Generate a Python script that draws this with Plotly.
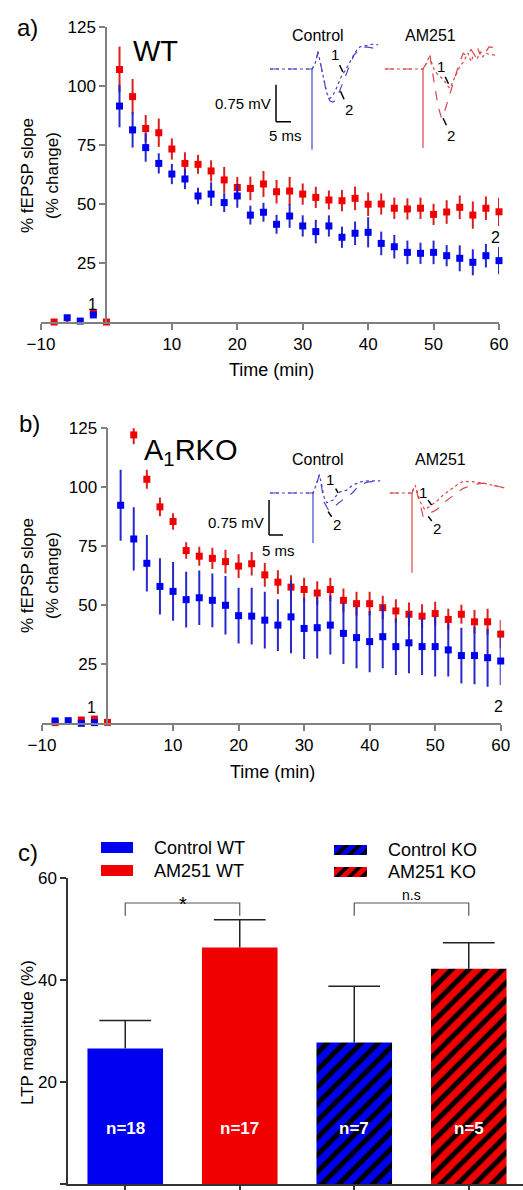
import plotly.graph_objects as go

W, H = 523, 1190
FONT = "Arial, Liberation Sans, Helvetica, sans-serif"
RED = "#f00000"
BLUE = "#0000f0"
RED_E = "rgba(215,20,20,0.95)"
BLUE_E = "rgba(30,30,200,0.95)"
AXC = "#808080"

# ---------------- Panel a : WT time course ----------------
time_a = [-8, -6, -4, -2, 0, 2, 4, 6, 8, 10, 12, 14, 16, 18, 20, 22, 24, 26, 28, 30,
          32, 34, 36, 38, 40, 42, 44, 46, 48, 50, 52, 54, 56, 58, 60]
wt_am251 = [0, -0.3, -0.5, 4, 0,
            107, 95.5, 82, 80.2, 73.3, 67.2, 66.8, 64, 60.2, 57, 56.6, 58.5, 55.2, 55.5, 54.2,
            52.8, 51.7, 51.4, 52.4, 49.9, 50, 48.2, 47.9, 48.2, 45.6, 46.6, 48.6, 45.3, 48.2, 46.7]
wt_am251_sem = [1, 1, 1, 1, 1,
                9.7, 7.5, 5.7, 6, 4.5, 4.7, 4, 4.5, 5.5, 4.5, 5, 5.5, 5, 6, 4.5,
                4.5, 4, 4.5, 5, 5, 4.5, 4.5, 4.5, 4.5, 4.5, 5, 5, 5.8, 5, 6]
wt_control = [-0.9, 1.8, 0.4, 3, -0.6,
              91.5, 81.4, 73.9, 67.2, 62.7, 60.6, 53.4, 54.2, 50.6, 53.4, 45.3, 46.5, 41.4, 44.9, 40.7,
              38.3, 40.7, 35.9, 37.6, 38, 33.3, 31.9, 29.5, 29.1, 29.5, 28.1, 27, 25.3, 28.1, 26]
wt_control_sem = [1, 1, 1, 1, 1,
                  9, 7.5, 6, 4.3, 4.3, 4.3, 3.5, 5, 4, 5, 4, 4, 4, 5, 4.5,
                  5, 4.5, 4.5, 5, 6.4, 5, 5, 5, 4.5, 5, 4.5, 5.5, 5.5, 5, 5.8]

# ---------------- Panel b : A1RKO time course ----------------
time_b_control = time_a
ko_control = [1, 1.1, 0, 0.3, -1.7,
              92.4, 78.1, 67.8, 58, 55.9, 52.4, 53.2, 52.1, 50, 45.6, 45.4, 43.7, 41.6, 45.1, 40.2,
              40.5, 41.6, 38.1, 36.3, 34.6, 36.7, 32.5, 34.1, 32.5, 32.5, 31.1, 28.7, 28.7, 27.8, 26.4]
ko_control_sem = [1, 1, 1, 1, 1,
                  15, 13.4, 12, 11.9, 12.4, 11.8, 11.5, 11.4, 12.4, 11.8, 12, 12, 11, 15.4, 13,
                  13, 12.5, 13, 13, 13, 13.4, 12, 12.9, 12, 12.7, 11.3, 11.8, 12.2, 12.3, 10.2]
time_b_am251 = [-8, -6, -4, -2, 0, 4, 6, 8, 10, 12, 14, 16, 18, 20, 22, 24, 26, 28, 30,
                32, 34, 36, 38, 40, 42, 44, 46, 48, 50, 52, 54, 56, 58, 60]
ko_am251 = [0.3, -2.5, 1.4, 1.8, 0.4,
            122.2, 103.4, 91.7, 85.5, 73.2, 70.8, 69.9, 68.5, 66.6, 67.6, 62.9, 59.8, 57.7, 56.7,
            55.2, 56.7, 52.1, 50.7, 50.7, 49, 47.6, 46.2, 45.4, 46.5, 44, 46.2, 43, 43, 37.8]
ko_am251_sem = [1, 1, 1, 1, 1,
                4, 4, 4, 3.5, 3.5, 4, 4.5, 5, 5, 5, 5, 5, 5, 5,
                5, 5, 5, 5, 5, 5, 5, 5, 5, 5, 4.5, 4, 5, 5.5, 6]

# ---------------- Panel c : LTP magnitude ----------------
groups = ["Control WT", "AM251 WT", "Control KO", "AM251 KO"]
ltp = [26.6, 46.4, 27.8, 42.2]
ltp_sem = [5.5, 5.4, 11.0, 5.1]
n_labels = ["n=18", "n=17", "n=7", "n=5"]
bar_colors = [BLUE, RED, BLUE, RED]
bar_hatch = ["", "", "/", "/"]

# ---------------- Inset example traces (ms, mV) ----------------
ctrl_a_t = [-14, 0, 1, 2, 3, 4, 5, 6, 7, 8, 9, 10, 11, 12, 13, 14, 15, 16, 18, 20, 22]
ctrl_a_v1 = [0, 0, 0.1, 0.35, 0.06, -0.24, -0.5, -0.6, -0.53, -0.41, -0.26, -0.12, -0.04, 0.06, 0.18, 0.3, 0.39, 0.45, 0.47, 0.5, 0.49]
ctrl_a_v2 = [0, 0, 0.1, 0.35, 0.06, -0.24, -0.53, -0.65, -0.67, -0.63, -0.47, -0.32, -0.18, -0.02, 0.14, 0.28, 0.35, 0.41, 0.45, 0.43, 0.39]
ctrl_a_art = -1.64
am_a_t = [-12.7, 0, 1, 2.3, 3, 4, 5, 6.2, 7, 8, 9, 10, 11, 12, 13.4, 15, 16, 17, 18, 19, 20, 21, 22, 24]
am_a_v1 = [0, 0, 0.1, 0.28, 0.1, -0.05, -0.12, -0.18, -0.22, -0.33, -0.39, -0.25, -0.1, 0.02, 0.14, 0.32, 0.15, 0.3, 0.2, 0.35, 0.25, 0.32, 0.3, 0.28]
am_a_v2 = [0, 0, 0.1, 0.28, 0.0, -0.4, -0.75, -1.0, -0.9, -0.7, -0.5, -0.28, -0.08, 0.1, 0.32, 0.25, 0.4, 0.3, 0.45, 0.3, 0.42, 0.35, 0.45, 0.43]
am_a_art = -1.6
ctrl_b_t = [-15.4, 0, 1, 2.3, 3, 4, 4.9, 5.5, 6, 7.2, 8, 9, 9.6, 10, 12, 13.2, 14, 16.8, 20, 24]
ctrl_b_v1 = [0, 0, 0.15, 0.39, 0.2, -0.1, -0.21, -0.2, -0.18, -0.15, -0.08, 0, 0.02, 0.03, 0.06, 0.12, 0.16, 0.24, 0.26, 0.26]
ctrl_b_v2 = [0, 0, 0.15, 0.39, 0.15, -0.2, -0.3, -0.36, -0.35, -0.32, -0.27, -0.22, -0.19, -0.16, -0.08, -0.04, 0.0, 0.18, 0.24, 0.25]
ctrl_b_art = -1.07
am_b_t = [-7.9, 0, 0.5, 1.1, 2, 3, 4, 4.6, 6, 8.8, 11, 13.6, 16, 18.3, 22, 25.5, 30, 33.8]
am_b_v1 = [0, 0, 0.08, 0.17, 0.0, -0.2, -0.3, -0.36, -0.3, -0.18, -0.05, 0.07, 0.17, 0.25, 0.24, 0.21, 0.15, 0.1]
am_b_v2 = [0, 0, 0.08, 0.17, -0.05, -0.3, -0.5, -0.48, -0.44, -0.36, -0.22, -0.11, 0.0, 0.1, 0.18, 0.21, 0.15, 0.1]
am_b_art = -1.71
scale_mv = 0.75
scale_ms = 5


def px(x):
    return x / W


def py(y):
    return 1 - y / H


fig = go.Figure()
annotations = []
shapes = []

tick_font = dict(family=FONT, size=17, color="black")
time_ticks = [-10, 10, 20, 30, 40, 50, 60]
y_ticks = [25, 50, 75, 100, 125]


def time_axes(xname, yname, x_left, x_right, y0_px, y125_px, yaxis_px):
    xa = dict(domain=[px(x_left), px(x_right)], range=[-10, 60], anchor=yname,
              showline=True, linecolor=AXC, linewidth=1.5, ticks="outside", ticklen=6,
              tickcolor=AXC, tickwidth=1.5, tickvals=time_ticks,
              tickfont=tick_font, showgrid=False, zeroline=False)
    ya = dict(domain=[py(y0_px), py(y125_px)], range=[0, 125], anchor="free",
              position=px(yaxis_px), showline=True, linecolor=AXC, linewidth=1.5,
              ticks="outside", ticklen=6, tickcolor=AXC, tickwidth=1.5, tickvals=y_ticks,
              tickfont=tick_font, showgrid=False, zeroline=False)
    # unlabeled tick at time 0 (below the x axis)
    shapes.append(dict(type="line", xref=xname, yref=yname, x0=0, x1=0, ysizemode="pixel",
                       yanchor=0, y0=0, y1=-6, line=dict(color=AXC, width=1.5)))
    return xa, ya


xa1, ya1 = time_axes("x", "y", 41, 499, 322, 27, 106)
xa2, ya2 = time_axes("x2", "y2", 42, 500.7, 723.3, 428.3, 107.3)


def add_series(t, v, e, color, ecolor, xa, ya):
    fig.add_trace(go.Scatter(
        x=t, y=v, mode="markers", xaxis=xa, yaxis=ya, cliponaxis=False, showlegend=False,
        marker=dict(symbol="square", size=7, color=color),
        error_y=dict(type="data", array=e, visible=True, color=ecolor, thickness=2, width=0)))


add_series(time_a, wt_am251, wt_am251_sem, RED, RED_E, "x", "y")
add_series(time_a, wt_control, wt_control_sem, BLUE, BLUE_E, "x", "y")
add_series(time_b_am251, ko_am251, ko_am251_sem, RED, RED_E, "x2", "y2")
add_series(time_b_control, ko_control, ko_control_sem, BLUE, BLUE_E, "x2", "y2")


# ---------------- Insets ----------------
def inset(idx, t0_px, base_py, px_ms, px_mv, trange, vrange):
    xd = [px(t0_px + trange[0] * px_ms), px(t0_px + trange[1] * px_ms)]
    yd = [py(base_py - vrange[0] * px_mv), py(base_py - vrange[1] * px_mv)]
    return (dict(domain=xd, range=trange, visible=False, anchor=f"y{idx}", fixedrange=True),
            dict(domain=yd, range=vrange, visible=False, anchor=f"x{idx}", fixedrange=True))


xa4, ya4 = inset(4, 312, 69, 3.0, 49.3, [-14.5, 23], [-1.9, 0.7])
xa5, ya5 = inset(5, 423, 69, 3.0, 49.3, [-13.5, 25], [-1.9, 0.7])
xa6, ya6 = inset(6, 313, 493, 2.8, 46.7, [-16.5, 25], [-1.9, 0.7])
xa7, ya7 = inset(7, 412, 493, 2.8, 46.7, [-8.5, 35], [-1.9, 0.7])

TR_BLUE = "#4747c8"
TR_RED = "#d84848"


def add_inset(idx, t, v1, v2, art, color):
    xa, ya = f"x{idx}", f"y{idx}"
    fig.add_trace(go.Scatter(x=t, y=v1, mode="lines", xaxis=xa, yaxis=ya, showlegend=False,
                             line=dict(color=color, width=1.2, dash="dot"), cliponaxis=False))
    fig.add_trace(go.Scatter(x=t, y=v2, mode="lines", xaxis=xa, yaxis=ya, showlegend=False,
                             line=dict(color=color, width=1.2, dash="dash"), cliponaxis=False))
    fig.add_trace(go.Scatter(x=[0, 0], y=[0, art], mode="lines", xaxis=xa, yaxis=ya,
                             showlegend=False, line=dict(color=color, width=1.2), cliponaxis=False))


add_inset(4, ctrl_a_t, ctrl_a_v1, ctrl_a_v2, ctrl_a_art, TR_BLUE)
add_inset(5, am_a_t, am_a_v1, am_a_v2, am_a_art, TR_RED)
add_inset(6, ctrl_b_t, ctrl_b_v1, ctrl_b_v2, ctrl_b_art, TR_BLUE)
add_inset(7, am_b_t, am_b_v1, am_b_v2, am_b_art, TR_RED)


def scale_bar(idx, t_left, v_bottom):
    shapes.append(dict(type="line", xref=f"x{idx}", yref=f"y{idx}", x0=t_left, x1=t_left,
                       y0=v_bottom, y1=v_bottom + scale_mv, line=dict(color="black", width=1.5)))
    shapes.append(dict(type="line", xref=f"x{idx}", yref=f"y{idx}", x0=t_left, x1=t_left + scale_ms,
                       y0=v_bottom, y1=v_bottom, line=dict(color="black", width=1.5)))


scale_bar(4, -12, -1.07)
scale_bar(6, -15.7, -0.9)


def lbl(idx, text, t, v, ax, ay):
    annotations.append(dict(xref=f"x{idx}", yref=f"y{idx}", x=t, y=v, text=text, showarrow=True,
                            arrowhead=0, arrowwidth=1.5, arrowcolor="black", ax=ax, ay=ay,
                            font=dict(family=FONT, size=15, color="black")))


lbl(4, "1", 10.3, -0.06, -8, -17)
lbl(4, "2", 9.5, -0.45, 8, 18)
lbl(5, "1", 8.5, -0.3, -8, -17)
lbl(5, "2", 6.7, -1.0, 8, 17)
lbl(6, "1", 9, 0.0, -8, -14)
lbl(6, "2", 5.4, -0.4, 9, 13)
lbl(7, "1", 7, -0.26, -9, -13)
lbl(7, "2", 5.8, -0.5, 9, 12)


def ptext(text, x, y, size, xanchor="center", yanchor="middle", angle=0, color="black"):
    annotations.append(dict(xref="paper", yref="paper", x=px(x), y=py(y), text=text, showarrow=False,
                            xanchor=xanchor, yanchor=yanchor, textangle=angle,
                            font=dict(family=FONT, size=size, color=color)))


# inset headers and scale bar labels
ptext("Control", 318, 35, 16)
ptext("AM251", 430, 35, 16)
ptext("0.75 mV", 273, 103, 15, xanchor="right")
ptext("5 ms", 285, 135, 15)
ptext("Control", 318, 460, 16)
ptext("AM251", 440, 460, 16)
ptext("0.75 mV", 266, 522, 15, xanchor="right")
ptext("5 ms", 278, 550, 15)

# panel labels and titles
ptext("a)", 27, 27, 24)
ptext("b)", 29, 423, 24)
ptext("c)", 28, 852, 24)
ptext("WT", 155, 51, 29)
ptext("A<sub>1</sub>RKO", 190, 452, 29)

for yc in (176, 576):
    ptext("% fEPSP slope", 27, yc, 17, angle=-90)
    ptext("(% change)", 52, yc, 17, angle=-90)
ptext("Time (min)", 271, 370, 18)
ptext("Time (min)", 272, 772, 18)

# '1' / '2' time-point labels on the time courses
for (xr, yr, xv, yv, txt) in [("x", "y", -2.2, 7.5, "1"), ("x", "y", 59.4, 36, "2"),
                              ("x2", "y2", -2.4, 6.8, "1"), ("x2", "y2", 59.6, 7, "2")]:
    annotations.append(dict(xref=xr, yref=yr, x=xv, y=yv, text=txt, showarrow=False,
                            font=dict(family=FONT, size=16, color="black")))

# ---------------- Panel c : bars ----------------
bar_x = [0, 1, 2, 3]
# error bars (drawn first, so the bars sit on top of the lower stem): cap marker at mean+SEM
err_top = [v + s for v, s in zip(ltp, ltp_sem)]
fig.add_trace(go.Scatter(
    x=bar_x, y=err_top, mode="markers", xaxis="x3", yaxis="y3", showlegend=False,
    cliponaxis=False,
    marker=dict(symbol="line-ew", size=37, line=dict(color="#222", width=1.5), color="#222"),
    error_y=dict(type="data", array=[0, 0, 0, 0], arrayminus=ltp_sem, symmetric=False,
                 color="#222", thickness=1.5, width=0)))
for i in range(len(groups)):
    fig.add_trace(go.Bar(
        x=[bar_x[i]], y=[ltp[i]], width=0.66, xaxis="x3", yaxis="y3", showlegend=False,
        name=groups[i],
        marker=dict(color=bar_colors[i], line=dict(width=0),
                    pattern=dict(shape=bar_hatch[i], fgcolor="black", bgcolor=bar_colors[i],
                                 size=12, solidity=0.42, fillmode="replace"))))

for i, n in enumerate(n_labels):
    annotations.append(dict(xref="x3", yref="y3", x=bar_x[i], y=11, text=f"<b>{n}</b>",
                            showarrow=False, font=dict(family=FONT, size=17, color="white")))

xa3 = dict(domain=[px(68), 1.0], range=[-0.5, -0.5 + (523 - 68) / 114.5], anchor="y3",
           showline=True, linecolor="#333", linewidth=1.5, ticks="outside", ticklen=6,
           tickcolor="#333", tickwidth=1.5, tickvals=bar_x, showticklabels=False,
           showgrid=False, zeroline=False)
ya3 = dict(domain=[py(1184.3), py(878)], range=[0, 60], anchor="x3", showline=True,
           linecolor="#333", linewidth=1.5, ticks="outside", ticklen=6, tickcolor="#333",
           tickwidth=1.5, tickvals=[0, 20, 40, 60], tickfont=tick_font, showgrid=False,
           zeroline=False)

ptext("LTP magnitude (%)", 27, 1033, 17, angle=-90)

# significance brackets
for (a, b, txt, fs, ty) in [(0, 1, "*", 20, 55.0), (2, 3, "n.s", 14, 56.6)]:
    shapes.append(dict(type="path", xref="x3", yref="y3",
                       path=f"M {a},52.6 L {a},55.1 L {b},55.1 L {b},52.6",
                       line=dict(color="#555", width=1.2)))
    annotations.append(dict(xref="x3", yref="y3", x=(a + b) / 2, y=ty, text=txt, showarrow=False,
                            yanchor="middle", font=dict(family=FONT, size=fs, color="black")))

# legend swatches (solid: rect shapes; hatched: mini bar axes)
for (y0, y1, col) in [(842, 853, BLUE), (865, 876, RED)]:
    shapes.append(dict(type="rect", xref="paper", yref="paper", x0=px(101), x1=px(133),
                       y0=py(y1), y1=py(y0), fillcolor=col, line=dict(width=0)))
ptext("Control WT", 152, 848, 18, xanchor="left")
ptext("AM251 WT", 152, 871, 18, xanchor="left")
ptext("Control KO", 386, 850, 18, xanchor="left")
ptext("AM251 KO", 386, 872, 18, xanchor="left")

leg_axes = {}
for idx, (y0, y1, col) in zip((8, 9), [(845, 855, BLUE), (867, 877, RED)]):
    leg_axes[f"xaxis{idx}"] = dict(domain=[px(334), px(367)], range=[-0.5, 0.5], visible=False,
                                   anchor=f"y{idx}", fixedrange=True)
    leg_axes[f"yaxis{idx}"] = dict(domain=[py(y1), py(y0)], range=[0, 1], visible=False,
                                   anchor=f"x{idx}", fixedrange=True)
    fig.add_trace(go.Bar(x=[0], y=[1], width=1, xaxis=f"x{idx}", yaxis=f"y{idx}", showlegend=False,
                         hoverinfo="skip",
                         marker=dict(color=col, line=dict(width=0),
                                     pattern=dict(shape="/", fgcolor="black", bgcolor=col,
                                                  size=9, solidity=0.42, fillmode="replace"))))

fig.update_layout(
    width=W, height=H, margin=dict(l=0, r=0, t=0, b=0, autoexpand=False),
    paper_bgcolor="white", plot_bgcolor="rgba(0,0,0,0)",
    font=dict(family=FONT, color="black"),
    xaxis=xa1, yaxis=ya1, xaxis2=xa2, yaxis2=ya2, xaxis3=xa3, yaxis3=ya3,
    xaxis4=xa4, yaxis4=ya4, xaxis5=xa5, yaxis5=ya5, xaxis6=xa6, yaxis6=ya6,
    xaxis7=xa7, yaxis7=ya7, barmode="overlay",
    annotations=annotations, shapes=shapes, showlegend=False,
)
fig.update_layout(**leg_axes)

fig.write_html("out.html")
